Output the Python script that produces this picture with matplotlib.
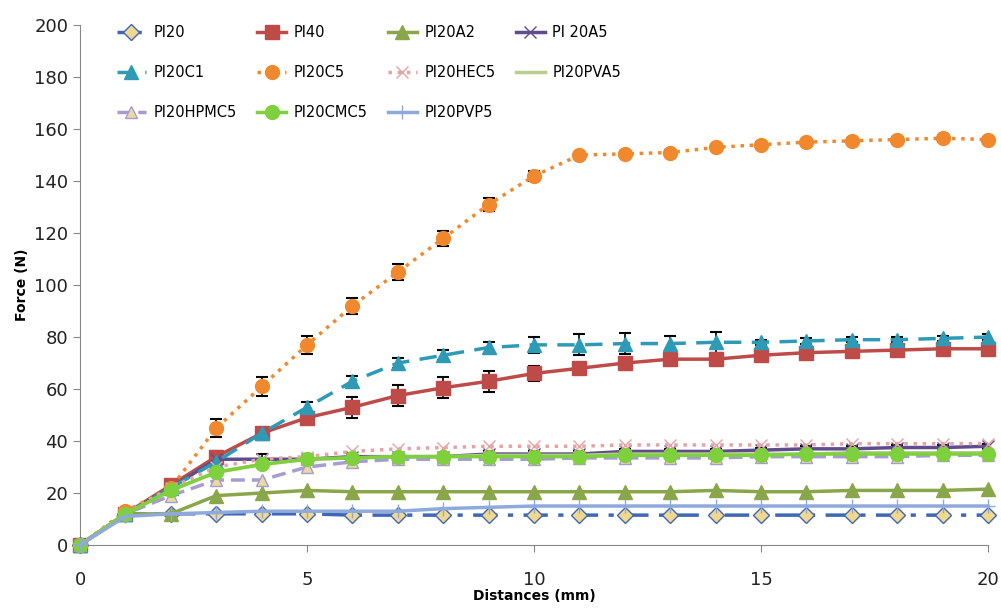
import numpy as np
import matplotlib
matplotlib.use('Agg')
import matplotlib.pyplot as plt

# distances (mm)
x = list(range(0, 21))

pl20 = [0, 12, 12, 12, 12, 12, 11.5, 11.5, 11.5, 11.5, 11.5, 11.5, 11.5, 11.5, 11.5, 11.5, 11.5, 11.5, 11.5, 11.5, 11.5]
pl40 = [0, 12, 23, 34, 43, 49, 53, 57.5, 60.5, 63, 66, 68, 70, 71.5, 71.5, 73, 74, 74.5, 75, 75.5, 75.5]
pl20a2 = [0, 12, 12, 19, 20, 21, 20.5, 20.5, 20.5, 20.5, 20.5, 20.5, 20.5, 20.5, 21, 20.5, 20.5, 21, 21, 21, 21.5]
pl20a5 = [0, 12, 22, 33, 33, 33, 34, 34, 34, 35, 35, 35, 36, 36, 36, 36.5, 37, 37, 37.5, 37.5, 38]
pl20c1 = [0, 12, 22, 32, 43, 53, 63, 70, 73, 76, 77, 77, 77.5, 77.5, 78, 78, 78.5, 79, 79, 79.5, 80]
pl20c5 = [0, 13, 22, 45, 61, 77, 92, 105, 118, 131, 142, 150, 150.5, 151, 153, 154, 155, 155.5, 156, 156.5, 156]
pl20hec5 = [0, 12, 22, 30, 33, 34, 36, 37, 37.5, 38, 38, 38, 38.5, 38.5, 38.5, 38.5, 38.5, 39, 39, 39, 39]
pl20pva5 = [0, 12, 21, 28, 31, 33, 33.5, 34, 34, 34.5, 34.5, 34.5, 35, 35, 35, 35, 35, 35.5, 35.5, 35.5, 35.5]
pl20hpmc5 = [0, 12, 19, 25, 25, 30, 32, 33, 33, 33, 33, 33.5, 33.5, 33.5, 33.5, 34, 34, 34, 34, 34.5, 34.5]
pl20cmc5 = [0, 12, 21, 28, 31, 33, 33.5, 34, 34, 34, 34, 34, 34.5, 34.5, 34.5, 34.5, 35, 35, 35, 35, 35]
pl20pvp5 = [0, 11, 12, 12.5, 13, 13, 13, 13, 14, 14.5, 15, 15, 15, 15, 15, 15, 15, 15, 15, 15, 15]

err_c5 = [0, 1, 1, 3.5, 3.5, 3.5, 3, 3, 3, 2.5, 2, 1, 1, 1, 1, 1, 1, 1, 1, 1, 1]
err_c1 = [0, 1, 1, 2, 2, 2, 2, 2, 2, 2, 3, 4, 4, 3, 4, 1, 1, 1, 1, 1, 1]
err_pl40 = [0, 1, 1, 2, 2, 2, 4, 4, 4, 4, 3, 1, 1, 1, 1, 1, 1, 1, 1, 1, 2]
err_small = [0, 0, 0, 2, 2, 1, 1, 1, 1, 1, 1, 1, 1, 1, 1, 1, 1, 1, 1, 1, 1]

plt.rcParams['font.family'] = ['DejaVu Sans']
fig = plt.figure(figsize=(10.01, 6.08), dpi=100)
ax = fig.add_axes([0.08, 0.1036, 0.907, 0.855])

handles = {}
def series(y, lab, color, ls, marker, ms=9, mfc=None, mec=None, err=None, lw=2.5):
    if err is not None:
        ax.errorbar(x, y, yerr=err, fmt='none', ecolor='black', elinewidth=1.2,
                    capsize=4, capthick=1.5, zorder=2)
    ln, = ax.plot(x, y, color=color, ls=ls, lw=lw, marker=marker, ms=ms,
                  mfc=mfc if mfc else color, mec=mec if mec else color,
                  label=lab, clip_on=False, zorder=3)
    handles[lab] = ln

series(pl20, 'Pl20', '#3E67B6', (0, (7, 3, 1.5, 3)), 'D', ms=8, mfc='#F0D98E', mec='#3E67B6')
series(pl40, 'Pl40', '#BE4B48', '-', 's', ms=10, err=err_pl40)
series(pl20a2, 'Pl20A2', '#8AA64A', '-', '^', ms=10)
series(pl20a5, 'Pl 20A5', '#5E4C8E', '-', 'x', ms=9, err=err_small)
series(pl20c1, 'Pl20C1', '#2E9AB6', (0, (5, 3)), '^', ms=10, err=err_c1)
series(pl20c5, 'Pl20C5', '#F0892E', ':', 'o', ms=10, err=err_c5)
series(pl20hec5, 'Pl20HEC5', '#E6A3A3', ':', 'x', ms=9)
series(pl20pva5, 'Pl20PVA5', '#B8CE8E', '-', None)
series(pl20hpmc5, 'Pl20HPMC5', '#A79CCF', (0, (4, 2)), '^', ms=9, mfc='#E9D9A2', mec='#A79CCF')
series(pl20cmc5, 'Pl20CMC5', '#7ED03C', '-', 'o', ms=10)
series(pl20pvp5, 'Pl20PVP5', '#8FA9DC', '-', '+', ms=10)

ax.set_xlim(0, 20)
ax.set_ylim(0, 200)
ax.set_xticks([0, 5, 10, 15, 20])
ax.set_yticks(range(0, 201, 20))
ax.tick_params(labelsize=13, length=5, color='#888888', labelcolor='#222222')
ax.tick_params(axis='x', pad=14)
for s in ['top', 'right']:
    ax.spines[s].set_visible(False)
for s in ['left', 'bottom']:
    ax.spines[s].set_color('#888888')

ax.set_xlabel('Distances (mm)', fontsize=10, fontweight='bold', labelpad=0)
ax.set_ylabel('Force (N)', fontsize=10, fontweight='bold', labelpad=4)

# legend filled row by row like the original
order = ['Pl20', 'Pl20C1', 'Pl20HPMC5',
         'Pl40', 'Pl20C5', 'Pl20CMC5',
         'Pl20A2', 'Pl20HEC5', 'Pl20PVP5',
         'Pl 20A5', 'Pl20PVA5']
leg = ax.legend([handles[k] for k in order], order, ncol=4, loc='upper left',
                bbox_to_anchor=(0.026, 1.025), frameon=False,
                handlelength=2.0, handletextpad=0.5, columnspacing=1.4, labelspacing=1.72,
                prop={'family': 'Liberation Sans Narrow', 'size': 10.5})

fig.savefig('out.png', dpi=100)
